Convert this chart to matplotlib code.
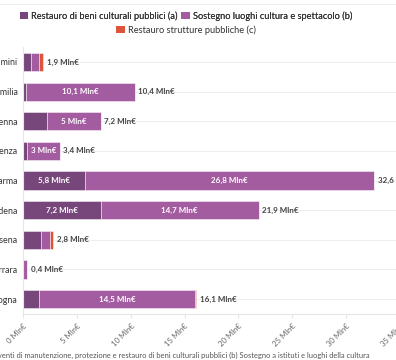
import matplotlib.pyplot as plt
from matplotlib.patches import Patch

plt.rcParams['font.family'] = ['Lato', 'DejaVu Sans']

# province (top to bottom as drawn) and amounts in Mln€
province = ['Rimini', 'Reggio Emilia', 'Ravenna', 'Piacenza', 'Parma',
            'Modena', 'Forlì-Cesena', 'Ferrara', 'Bologna']
restauro_beni = [0.75, 0.3, 2.2, 0.4, 5.8, 7.2, 1.7, 0.0, 1.5]      # (a)
sostegno_luoghi = [0.75, 10.1, 5.0, 3.0, 26.8, 14.7, 0.8, 0.4, 14.5]  # (b)
restauro_strutture = [0.4, 0.0, 0.0, 0.0, 0.0, 0.0, 0.3, 0.0, 0.1]   # (c)
totali = [1.9, 10.4, 7.2, 3.4, 32.6, 21.9, 2.8, 0.4, 16.1]

series = [
    ('Restauro di beni culturali pubblici (a)', restauro_beni, '#77477b'),
    ('Sostegno luoghi cultura e spettacolo (b)', sostegno_luoghi, '#a45ca0'),
    ('Restauro strutture pubbliche (c)', restauro_strutture, '#dc553b'),
]
xticks = [0, 5, 10, 15, 20, 25, 30, 35]


def fmt(v):
    s = f'{v:.1f}'
    if s.endswith('.0'):
        s = s[:-2]
    return s.replace('.', ',') + ' Mln€'


fig = plt.figure(figsize=(3.96, 3.6), dpi=100)
ax = fig.add_axes([23 / 396, 0.128, 377 / 396, 0.741])

y = list(range(len(province)))
left = [0.0] * len(province)
for name, vals, col in series:
    ax.barh(y, vals, left=left, height=0.61, color=col,
            edgecolor=(1, 1, 1, 0.45), linewidth=0.7, zorder=2)
    for i, v in enumerate(vals):
        if v >= 2.5:
            ax.text(left[i] + v / 2, i, fmt(v), ha='center', va='center',
                    color='white', fontsize=5.8, fontweight='bold', zorder=3)
    left = [l + v for l, v in zip(left, vals)]

for i, t in enumerate(totali):
    ax.annotate(fmt(t), (left[i], i), xytext=(2.5, 0), textcoords='offset points',
                ha='left', va='center', fontsize=5.8, fontweight='bold', color='#444444')

ax.set_xlim(0, 35)
ax.set_ylim(len(province) - 0.5, -0.5)
ax.set_yticks(y)
ax.set_yticklabels(province, fontsize=6.4, color='#333333')
ax.tick_params(axis='y', length=0, pad=4)
ax.set_xticks(xticks)
ax.set_xticklabels([f'{t} Mln€' for t in xticks], rotation=45, ha='right',
                   va='top', rotation_mode='anchor', fontsize=5.6, color='#666666')
ax.tick_params(axis='x', length=3, color='#e6e6e6', pad=3)
ax.grid(axis='y', color='#eeeeee', linewidth=0.8, zorder=0)
for s in ['top', 'right']:
    ax.spines[s].set_visible(False)
for s in ['left', 'bottom']:
    ax.spines[s].set_color('#e6e6e6')
    ax.spines[s].set_linewidth(0.8)

handles = [Patch(facecolor=c, edgecolor='none', label=n) for n, _, c in series]
leg1 = fig.legend(handles=handles[:2], ncol=2, loc='center', bbox_to_anchor=(186 / 396, 1 - 16 / 360),
                  frameon=False, fontsize=6.7, handlelength=0.9, handleheight=0.9,
                  handletextpad=0.3, columnspacing=0.4, labelcolor='#333333')
fig.add_artist(leg1)
fig.legend(handles=handles[2:], loc='center', bbox_to_anchor=(186 / 396, 1 - 30 / 360),
           frameon=False, fontsize=6.7, handlelength=0.9, handleheight=0.9,
           handletextpad=0.3, labelcolor='#333333')

fig.add_artist(plt.Line2D([0, 1], [1 - 4 / 360, 1 - 4 / 360], color='#eeeeee', linewidth=0.8))
fig.text(-0.005, 1 - 355 / 360,
         'venti di manutenzione, protezione e restauro di beni culturali pubblici (b) Sostegno a istituti e luoghi della cultura',
         fontsize=5.4, color='#555555', ha='left', va='center')

fig.savefig('out.png', dpi=100)
